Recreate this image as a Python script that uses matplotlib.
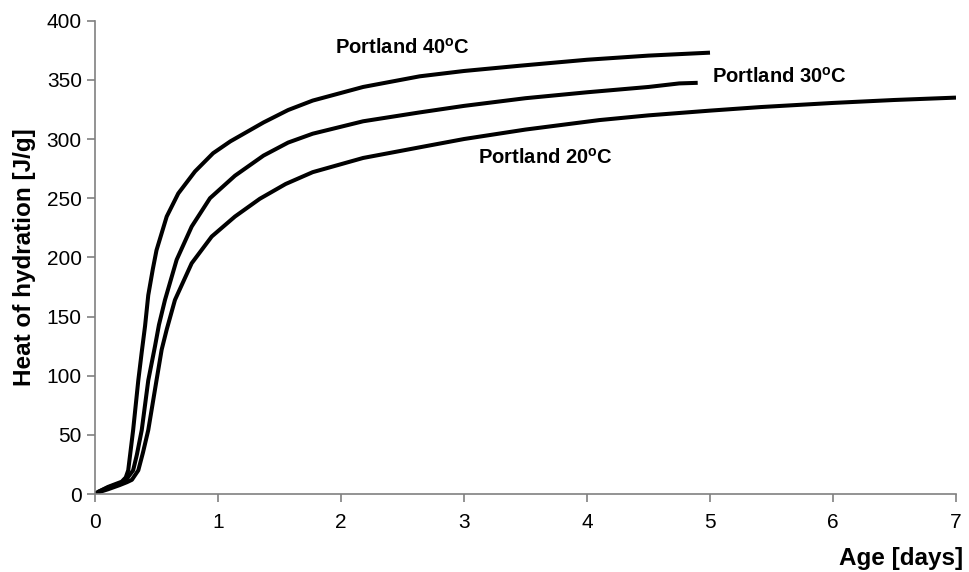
import numpy as np
import matplotlib
matplotlib.use('Agg')
import matplotlib.pyplot as plt

plt.rcParams['font.family'] = ['Liberation Sans', 'DejaVu Sans']
plt.rcParams['mathtext.fontset'] = 'custom'
plt.rcParams['mathtext.rm'] = 'Liberation Sans:bold'

# heat of hydration curves
age_40 = [0, 0.03, 0.106, 0.217, 0.25, 0.27, 0.29, 0.31, 0.352, 0.38, 0.407, 0.433,
          0.47, 0.50, 0.583, 0.677, 0.813, 0.96, 1.1, 1.37, 1.57, 1.77, 2.18, 2.64,
          3.0, 3.46, 4.0, 4.5, 5.0]
heat_40 = [0, 2, 6, 10.4, 14, 20, 37, 54, 96, 120, 142, 168,
           190, 206, 234.5, 254, 272.6, 288, 298, 314, 324.5, 332.5, 344, 353,
           357.5, 362, 367, 370.5, 373]

age_30 = [0, 0.03, 0.106, 0.217, 0.26, 0.31, 0.34, 0.38, 0.433, 0.488, 0.52, 0.569,
          0.664, 0.786, 0.935, 1.138, 1.37, 1.57, 1.77, 2.18, 2.64, 3.0, 3.5, 4.0,
          4.5, 4.75, 4.9]
heat_30 = [0, 2, 5.5, 9.5, 13, 20, 33, 54, 96, 125, 143, 164,
           198, 226, 250, 269, 286, 297, 304.5, 315, 322.5, 328, 334.5, 339.5,
           344, 347, 347.5]

age_20 = [0, 0.03, 0.106, 0.2, 0.26, 0.30, 0.352, 0.39, 0.433, 0.50, 0.542, 0.583,
          0.65, 0.786, 0.949, 1.138, 1.34, 1.55, 1.77, 2.18, 2.64, 3.0, 3.5, 4.1,
          4.5, 5.0, 5.41, 6.0, 6.5, 7.0]
heat_20 = [0, 1.5, 4, 7.5, 10, 12, 20, 35, 54, 96, 122, 139,
           164, 195, 217.6, 234.5, 249.5, 262, 272, 284, 293, 300, 308, 316,
           320, 324, 327, 330.5, 333, 335]

labels = ['Portland 40$^\\mathrm{o}$C', 'Portland 30$^\\mathrm{o}$C', 'Portland 20$^\\mathrm{o}$C']
label_xy = [(1.95, 377), (5.02, 352.5), (3.11, 284)]

fig = plt.figure(figsize=(9.69, 5.72), dpi=100)
ax = fig.add_axes([95/969, 1-494/572, (956-95)/969, (494-20.7)/572])

for a, h in [(age_40, heat_40), (age_30, heat_30), (age_20, heat_20)]:
    ax.plot(a, h, color='black', lw=2.9, solid_capstyle='butt', solid_joinstyle='round')

for t, (x, y) in zip(labels, label_xy):
    ax.text(x, y, t, fontsize=14.5, fontweight='bold', va='center', ha='left')

ax.set_xlim(0, 7)
ax.set_ylim(0, 400)
ax.set_xticks(range(0, 8))
ax.set_yticks(range(0, 401, 50))
for s in ['top', 'right']:
    ax.spines[s].set_visible(False)
for s in ['left', 'bottom']:
    ax.spines[s].set_color('#808080')
    ax.spines[s].set_linewidth(1.2)
ax.tick_params(axis='both', colors='#808080', labelcolor='black', labelsize=15,
               length=6, width=1.2, direction='out')
ax.tick_params(axis='x', pad=8)

ax.set_ylabel('Heat of hydration [J/g]', fontsize=17.5, fontweight='bold', labelpad=8)
fig.text(963/969, 1-558/572, 'Age [days]', fontsize=17.5, fontweight='bold',
         ha='right', va='center')

plt.savefig('out.png', dpi=100)
